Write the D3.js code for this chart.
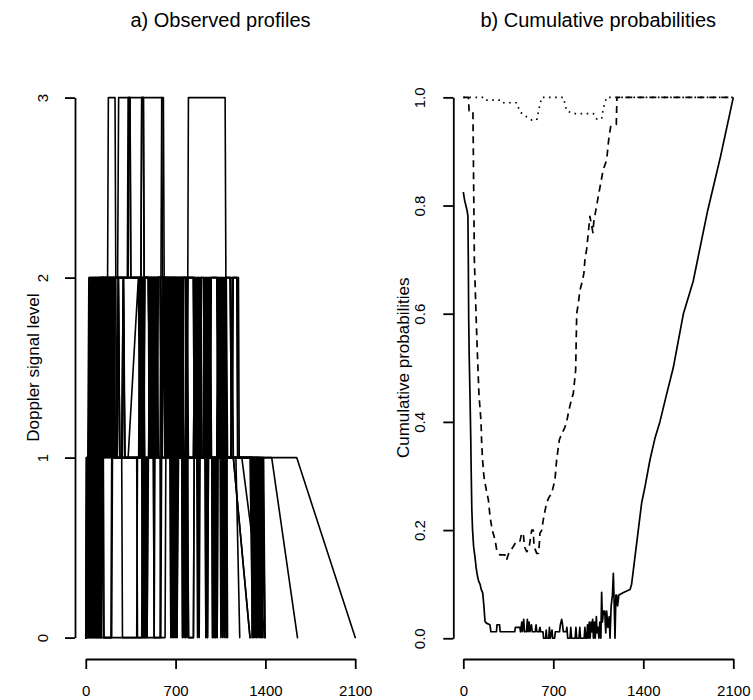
<!DOCTYPE html>
<html>
<meta charset="utf-8">
<style>
body { margin: 0; background: #fff; }
svg text { font-family: "Liberation Sans", Arial, Helvetica, sans-serif; fill: #000; }
.title { font-size: 20px; text-anchor: middle; }
.ylab { font-size: 17px; text-anchor: middle; }
.axis text { font-size: 15px; }
.axis path, .axis line { stroke: #000; stroke-width: 1.8px; }
.profile { fill: none; stroke: #000; stroke-width: 1.6px; stroke-linejoin: round; stroke-linecap: round; }
.cum { fill: none; stroke: #000; stroke-width: 1.7px; stroke-linejoin: round; }
</style>
<body>
<script src="https://cdn.jsdelivr.net/npm/d3@7"></script>
<script>

// ---- data ----
// observed profiles: flat [time, level, time, level, ...]
var p01 = [0,0, 4,1, 30,1, 33,2, 45,1, 57,2, 69,1, 81,2, 93,1, 105,2, 170,2, 176,3, 228,3, 234,2, 241,1, 253,2, 265,1, 280,1, 292,2, 304,1, 412,1, 424,2, 436,1, 448,2, 460,1, 490,1, 502,2, 514,1, 526,2, 538,1, 550,2, 562,1, 620,1, 632,2, 644,1, 656,2, 668,1, 680,2, 692,1, 704,2, 716,1, 728,2, 740,1, 752,2, 758,1, 1644,1, 2100,0];
var p02 = [0,0, 10,1, 40,1, 51,2, 63,1, 75,2, 87,1, 99,2, 111,1, 123,2, 135,1, 147,2, 159,1, 171,2, 183,1, 195,2, 207,1, 219,2, 226,1, 397,1, 403,0, 436,0, 442,1, 454,0, 466,1, 478,0, 488,1, 527,1, 533,0, 579,0, 585,1, 780,1, 786,2, 798,1, 1449,1, 1650,0];
var p03 = [0,0, 16,1, 24,2, 248,2, 256,3, 592,3, 598,2, 610,2, 618,1, 630,2, 642,1, 654,2, 666,1, 678,2, 690,1, 702,2, 714,1, 726,2, 738,1, 750,2, 762,1, 839,1, 851,2, 863,1, 875,2, 887,1, 899,2, 905,1, 1216,1, 1397,0];
var p04 = [0,0, 24,1, 36,2, 48,1, 60,2, 72,1, 84,2, 96,1, 108,2, 120,1, 132,2, 144,1, 156,2, 168,1, 180,2, 192,1, 204,2, 216,1, 228,2, 324,2, 330,3, 345,3, 351,2, 430,2, 436,3, 449,3, 455,2, 488,2, 500,1, 512,2, 524,1, 536,2, 548,1, 560,2, 579,2, 591,1, 603,2, 700,2, 712,1, 724,2, 736,1, 748,2, 760,1, 930,1, 936,0, 943,1, 949,0, 956,1, 1150,1, 1280,0];
var p05 = [0,0, 34,1, 44,2, 56,1, 68,2, 80,1, 92,2, 104,1, 116,2, 128,1, 140,2, 152,1, 164,2, 176,1, 188,2, 200,1, 212,2, 224,1, 241,1, 253,2, 265,1, 280,1, 292,2, 304,1, 330,1, 410,2, 422,1, 434,2, 446,1, 458,2, 795,2, 800,3, 1086,3, 1092,2, 1190,2, 1196,1, 1280,1, 1300,0];
var p06 = [0,0, 44,1, 56,2, 68,1, 80,2, 92,1, 104,2, 116,1, 128,2, 140,1, 152,2, 164,1, 176,2, 188,1, 200,2, 212,1, 224,2, 230,1, 490,1, 496,2, 508,1, 520,2, 532,1, 544,2, 556,1, 562,2, 620,2, 626,1, 638,2, 650,1, 662,2, 674,1, 686,2, 698,1, 710,2, 722,1, 734,2, 746,1, 758,2, 774,2, 786,1, 798,2, 839,2, 845,1, 857,2, 869,1, 881,2, 893,1, 917,1, 929,2, 941,1, 953,2, 965,1, 977,2, 1021,2, 1033,1, 1045,2, 1057,1, 1069,2, 1081,1, 1093,2, 1125,2, 1137,1, 1149,2, 1180,2, 1186,1, 1310,1, 1330,0];
var p07 = [0,0, 54,1, 66,0, 78,1, 90,0, 102,1, 114,0, 124,1, 137,0, 202,0, 208,1, 280,1, 286,0, 397,0, 403,1, 420,1, 426,2, 438,1, 450,2, 456,1, 657,1, 663,0, 675,1, 687,0, 699,1, 711,0, 723,1, 748,1, 754,0, 766,1, 778,0, 790,1, 802,0, 839,0, 845,1, 1340,1, 1360,0];
var p08 = [0,0, 618,0, 624,1, 636,2, 648,1, 660,2, 672,1, 684,2, 696,1, 708,2, 720,1, 732,2, 744,1, 756,2, 761,1, 865,1, 871,0, 878,1, 884,0, 891,1, 930,1, 936,0, 943,1, 949,0, 956,1, 982,1, 988,0, 994,1, 1000,0, 1006,1, 1012,0, 1018,1, 1024,0, 1030,1, 1047,1, 1053,0, 1060,1, 1066,0, 1073,1, 1079,0, 1086,1, 1092,0, 1099,1, 1360,1, 1380,0];
var p09 = [0,0, 66,1, 78,2, 90,1, 102,2, 114,1, 126,2, 488,2, 500,1, 512,2, 524,1, 536,2, 548,1, 560,2, 579,2, 591,1, 603,2, 618,2, 630,1, 642,2, 654,1, 666,2, 678,1, 690,2, 702,1, 714,2, 726,1, 738,2, 750,1, 756,2, 839,2, 851,1, 863,2, 875,1, 887,2, 899,1, 917,1, 929,2, 941,1, 953,2, 965,1, 977,2, 1021,2, 1033,1, 1045,2, 1057,1, 1069,2, 1081,1, 1093,2, 1125,2, 1137,1, 1149,2, 1177,2, 1183,1, 1380,1, 1397,0];
var p10 = [0,0, 78,1, 90,2, 102,1, 114,2, 126,1, 138,2, 150,1, 162,2, 174,1, 186,2, 198,1, 210,2, 222,1, 436,1, 442,2, 454,1, 460,2, 488,2, 494,1, 506,2, 518,1, 530,2, 542,1, 554,2, 566,1, 579,1, 585,2, 597,1, 605,2, 618,1, 630,2, 642,1, 654,2, 666,1, 678,2, 690,1, 702,2, 714,1, 726,2, 738,1, 750,2, 762,1, 774,1, 780,2, 792,1, 800,0, 839,0, 845,1, 1290,1, 1310,0];
var p11 = [0,0, 90,1, 102,0, 114,1, 120,2, 430,2, 436,3, 449,3, 455,2, 586,2, 592,3, 605,3, 611,2, 839,2, 845,1, 857,2, 869,1, 881,2, 893,1, 899,2, 917,2, 929,1, 941,2, 953,1, 965,2, 977,1, 1021,1, 1033,2, 1045,1, 1057,2, 1069,1, 1081,2, 1093,1, 1099,1, 1105,0];
var p12 = [0,0, 102,1, 114,2, 126,1, 138,2, 150,1, 162,2, 174,1, 186,2, 198,1, 210,2, 216,1, 228,2, 330,2, 336,3, 345,3, 351,2, 488,2, 500,1, 512,2, 524,1, 536,2, 548,1, 560,2, 618,2, 630,1, 642,2, 654,1, 666,2, 678,1, 690,2, 702,1, 714,2, 726,1, 738,2, 750,1, 839,1, 851,2, 863,1, 875,2, 887,1, 899,2, 917,2, 929,1, 941,2, 953,1, 965,2, 977,1, 1021,1, 1033,2, 1045,1, 1057,2, 1069,1, 1081,2, 1093,1, 1150,1, 1280,0];
var p13 = [0,0, 6,1, 12,0, 18,1, 24,0, 30,1, 36,0, 42,1, 48,0, 54,1, 60,0, 66,1, 72,0, 78,1, 84,0, 90,1, 96,0, 102,1, 108,0, 114,1, 120,0, 126,1, 137,1, 143,0, 196,0, 202,1, 436,1, 442,0, 448,1, 454,0, 460,1, 466,0, 472,1, 478,0, 484,1, 527,1, 533,0, 539,1, 579,1, 585,0, 591,1, 657,1, 663,0, 669,1, 675,0, 681,1, 687,0, 693,1, 699,0, 705,1, 711,0, 717,1, 748,1, 754,0, 760,1, 766,0, 772,1, 778,0, 784,1, 790,0, 796,1, 982,1, 988,0, 994,1, 1000,0, 1006,1, 1012,0, 1018,1, 1024,0, 1030,1, 1290,1, 1296,0, 1302,1, 1308,0, 1314,1, 1320,0, 1326,1, 1332,0, 1338,1, 1344,0, 1350,1, 1356,0, 1362,1, 1368,0, 1374,1, 1380,0, 1386,1, 1397,0];
var p14 = [0,0, 20,1, 35,2, 45,1, 55,2, 65,1, 75,2, 85,1, 95,2, 105,1, 115,2, 125,1, 135,2, 145,1, 155,2, 165,1, 175,2, 185,1, 195,2, 205,1, 215,2, 225,1, 245,1, 255,2, 265,1, 285,1, 295,2, 305,1, 415,1, 425,2, 435,1, 445,2, 455,1, 495,1, 505,2, 515,1, 525,2, 535,1, 545,2, 555,1, 565,2, 585,2, 595,1, 605,2, 625,2, 635,1, 645,2, 655,1, 665,2, 675,1, 685,2, 695,1, 705,2, 715,1, 725,2, 735,1, 745,2, 755,1, 780,1, 790,2, 800,1, 845,1, 855,2, 865,1, 875,2, 885,1, 895,2, 905,1, 920,1, 930,2, 940,1, 950,2, 960,1, 970,2, 980,1, 1025,1, 1035,2, 1045,1, 1055,2, 1065,1, 1075,2, 1085,1, 1095,2, 1105,1, 1130,1, 1140,2, 1150,1, 1170,1, 1200,0];
var p15 = [0,0, 28,1, 40,2, 50,1, 60,2, 70,1, 80,2, 90,1, 100,2, 110,1, 120,2, 130,1, 140,2, 150,1, 160,2, 170,1, 180,2, 190,1, 200,2, 210,1, 220,2, 420,2, 430,1, 440,2, 450,1, 460,2, 500,2, 510,1, 520,2, 530,1, 540,2, 550,1, 560,2, 640,2, 650,1, 660,2, 670,1, 680,2, 690,1, 700,2, 710,1, 720,2, 730,1, 740,2, 750,1, 760,2, 850,2, 860,1, 870,2, 880,1, 890,2, 900,1, 925,1, 935,2, 945,1, 955,2, 965,1, 975,2, 1030,2, 1040,1, 1050,2, 1060,1, 1070,2, 1080,1, 1090,2, 1098,1, 1099,0];
var profiles = [p01, p02, p03, p04, p05, p06, p07, p08, p09, p10, p11, p12, p13, p14, p15];

// cumulative probabilities: [time, prob]
var cumLevel0 = [[0,0.825],[10,0.81],[20,0.80],[30,0.79],[36,0.78],[39,0.70],[42,0.59],[46,0.52],[52,0.45],[58,0.37],[62,0.30],[66,0.24],[72,0.20],[80,0.17],[91,0.15],[100,0.13],[110,0.115],[120,0.105],[130,0.10],[140,0.09],[151,0.084],[160,0.06],[169,0.031],[180,0.028],[207,0.025],[215,0.012],[258,0.012],[262,0.025],[282,0.025],[287,0.012],[400,0.012],[405,0.02],[440,0.02],[445,0.012],[455,0.03],[460,0.012],[470,0.035],[476,0.012],[492,0.012],[498,0.035],[504,0.012],[512,0.03],[518,0.012],[530,0.025],[536,0.012],[560,0.012],[566,0.025],[572,0.012],[590,0.012],[596,0.02],[602,0.012],[620,0.012],[624,0],[640,0],[645,0.015],[650,0],[665,0],[670,0.02],[676,0],[690,0.015],[695,0],[710,0],[716,0.012],[748,0.012],[755,0.025],[765,0.035],[772,0.025],[778,0.012],[800,0.012],[806,0.02],[812,0],[830,0],[836,0.02],[842,0],[870,0],[876,0.02],[882,0],[900,0],[906,0.02],[912,0],[940,0],[946,0.02],[952,0],[960,0],[966,0.025],[972,0],[980,0.03],[986,0],[995,0.03],[1000,0.012],[1006,0.035],[1012,0],[1020,0.03],[1026,0],[1035,0.04],[1040,0.01],[1048,0.02],[1055,0],[1062,0.03],[1070,0],[1076,0.085],[1082,0.03],[1090,0.05],[1100,0.05],[1108,0.01],[1115,0.05],[1125,0.02],[1135,0.04],[1141,0],[1150,0.06],[1160,0.08],[1167,0.12],[1174,0.06],[1180,0],[1187,0.08],[1193,0.08],[1200,0.06],[1210,0.08],[1250,0.085],[1297,0.09],[1309,0.10],[1322,0.125],[1335,0.15],[1348,0.175],[1361,0.2],[1374,0.225],[1387,0.25],[1413,0.28],[1452,0.33],[1491,0.37],[1529,0.40],[1580,0.45],[1633,0.50],[1712,0.60],[1788,0.66],[1900,0.79],[2000,0.89],[2100,1.0]];
var cumLevel1 = [[0,1],[40,1],[45,0.975],[75,0.975],[78,0.9],[82,0.8],[86,0.7],[99,0.6],[109,0.53],[122,0.45],[138,0.4],[143,0.36],[150,0.33],[160,0.30],[169,0.287],[182,0.27],[195,0.256],[208,0.225],[225,0.2],[247,0.182],[260,0.163],[285,0.154],[324,0.154],[330,0.145],[337,0.145],[350,0.155],[363,0.16],[390,0.17],[415,0.18],[441,0.18],[454,0.194],[467,0.194],[475,0.17],[493,0.16],[510,0.165],[532,0.2],[544,0.2],[550,0.17],[571,0.157],[583,0.157],[590,0.17],[596,0.194],[610,0.2],[622,0.219],[635,0.235],[648,0.25],[665,0.26],[687,0.268],[700,0.28],[713,0.293],[726,0.33],[747,0.367],[770,0.38],[790,0.39],[804,0.40],[820,0.42],[840,0.44],[856,0.453],[874,0.496],[882,0.6],[895,0.62],[908,0.644],[928,0.662],[938,0.675],[946,0.70],[960,0.72],[985,0.78],[1008,0.75],[1015,0.77],[1037,0.80],[1060,0.83],[1088,0.866],[1115,0.884],[1130,0.92],[1146,0.946],[1170,0.95],[1190,0.95],[1195,1.0],[2100,1.0]];
var cumLevel2 = [[0,1],[170,1],[182,0.995],[285,0.995],[300,0.99],[311,0.99],[415,0.99],[441,0.973],[493,0.964],[532,0.958],[571,0.958],[590,0.98],[610,1],[778,1],[804,0.975],[855,0.97],[1011,0.97],[1037,0.96],[1076,0.96],[1089,0.98],[1115,1],[2100,1]];

var timeTicks = [0, 700, 1400, 2100];
var levelTicks = [0, 1, 2, 3];
var probTicks = [0, 0.2, 0.4, 0.6, 0.8, 1.0];

// ---- drawing ----
var svg = d3.select("body").append("svg")
    .attr("width", 753)
    .attr("height", 700);

function pairs(flat) {
  var out = [];
  for (var i = 0; i < flat.length; i += 2) out.push([flat[i], flat[i + 1]]);
  return out;
}

// R-style axis: line only between first and last tick
function rAxis(g, axisFn, scale, ticks, fmt) {
  var s = scale.copy().domain([ticks[0], ticks[ticks.length - 1]])
    .range([scale(ticks[0]), scale(ticks[ticks.length - 1])]);
  g.call(axisFn(s).tickValues(ticks).tickSize(10).tickSizeOuter(0).tickPadding(16).tickFormat(fmt));
}

// panel a
var xA = d3.scaleLinear().domain([-84, 2184]).range([75, 366]);
var yA = d3.scaleLinear().domain([-0.12, 3.12]).range([659.2, 76]);

var lineA = d3.line().x(function(d) { return xA(d[0]); }).y(function(d) { return yA(d[1]); });

svg.append("g").selectAll("path")
  .data(profiles)
  .enter()
  .append("path")
  .attr("class", "profile")
  .attr("d", function(d) { return lineA(pairs(d)); });

var gxA = svg.append("g").attr("class", "axis").attr("transform", "translate(0,659)");
rAxis(gxA, d3.axisBottom, xA, timeTicks, d3.format("d"));

var gyA = svg.append("g").attr("class", "axis").attr("transform", "translate(75,0)");
rAxis(gyA, d3.axisLeft, yA, levelTicks, d3.format("d"));
gyA.selectAll(".tick text")
  .attr("transform", "rotate(-90)")
  .attr("x", 0).attr("y", -27).attr("dy", 0)
  .attr("text-anchor", "middle");

svg.append("text").attr("class", "title")
  .attr("x", (75 + 366) / 2).attr("y", 27)
  .text("a) Observed profiles");
svg.append("text").attr("class", "ylab")
  .attr("transform", "translate(39," + (76 + 659.2) / 2 + ") rotate(-90)")
  .text("Doppler signal level");

// panel b
var xB = d3.scaleLinear().domain([-84, 2184]).range([452.5, 744.1]);
var yB = d3.scaleLinear().domain([-0.04, 1.04]).range([659.9, 75.7]);

var lineB = d3.line().x(function(d) { return xB(d[0]); }).y(function(d) { return yB(d[1]); });

svg.append("path").attr("class", "cum")
  .attr("d", lineB(cumLevel0));
svg.append("path").attr("class", "cum")
  .style("stroke-dasharray", "7,5")
  .attr("d", lineB(cumLevel1));
svg.append("path").attr("class", "cum")
  .style("stroke-dasharray", "1.6,4.5")
  .attr("d", lineB(cumLevel2));

var gxB = svg.append("g").attr("class", "axis").attr("transform", "translate(0,659)");
rAxis(gxB, d3.axisBottom, xB, timeTicks, d3.format("d"));

var gyB = svg.append("g").attr("class", "axis").attr("transform", "translate(453.3,0)");
rAxis(gyB, d3.axisLeft, yB, probTicks, d3.format(".1f"));
gyB.selectAll(".tick text")
  .attr("transform", "rotate(-90)")
  .attr("x", 0).attr("y", -28).attr("dy", 0)
  .attr("text-anchor", "middle");

svg.append("text").attr("class", "title")
  .attr("x", (452.5 + 744.1) / 2).attr("y", 27)
  .text("b) Cumulative probabilities");
svg.append("text").attr("class", "ylab")
  .attr("transform", "translate(409," + (75.7 + 659.9) / 2 + ") rotate(-90)")
  .text("Cumulative probabilities");

</script>
</body>
</html>
